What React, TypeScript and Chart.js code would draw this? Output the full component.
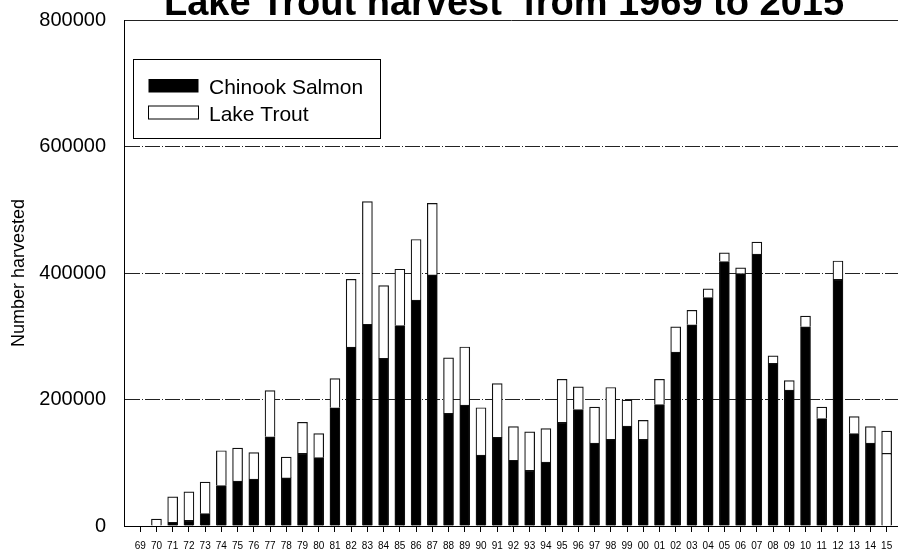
import React, { useEffect, useRef } from 'react';
import { Chart, registerables } from 'chart.js';

Chart.register(...registerables);

const years = [
  1969, 1970, 1971, 1972, 1973, 1974, 1975, 1976, 1977, 1978, 1979, 1980,
  1981, 1982, 1983, 1984, 1985, 1986, 1987, 1988, 1989, 1990, 1991, 1992,
  1993, 1994, 1995, 1996, 1997, 1998, 1999, 2000, 2001, 2002, 2003, 2004,
  2005, 2006, 2007, 2008, 2009, 2010, 2011, 2012, 2013, 2014, 2015,
];

const yearLabels = [
  '69', '70', '71', '72', '73', '74', '75', '76', '77', '78', '79', '80',
  '81', '82', '83', '84', '85', '86', '87', '88', '89', '90', '91', '92',
  '93', '94', '95', '96', '97', '98', '99', '00', '01', '02', '03', '04',
  '05', '06', '07', '08', '09', '10', '11', '12', '13', '14', '15',
];

const chinookSalmon = [
  0, 0, 6000, 9000, 19500, 64000, 71000, 74000, 141000, 76000, 115000, 108000,
  187000, 283000, 319000, 265000, 317000, 357000, 397000, 178000, 191000, 112000, 140000, 104000,
  88000, 101000, 164000, 184000, 131000, 137000, 158000, 137000, 192000, 275000, 318000, 361000,
  418000, 399000, 430000, 257000, 215000, 315000, 170000, 390000, 146000, 131000, 115000,
];

const lakeTrout = [
  0, 11000, 40000, 45000, 50000, 55000, 52000, 42000, 73000, 33000, 49000, 38000,
  46000, 107000, 194000, 115000, 89000, 96000, 113000, 88000, 92000, 75000, 85000, 53000,
  61000, 53000, 68000, 36000, 57000, 82000, 41000, 30000, 40000, 40000, 23000, 14000,
  14000, 9000, 19000, 12000, 15000, 17000, 18000, 29000, 27000, 26000, 35000,
];

const seriesNames = ['Chinook Salmon', 'Lake Trout'];
const titleText = 'Lake Trout harvest  from 1969 to 2015';
const yAxisTitle = 'Number harvested';
const yMin = 0;
const yMax = 800000;
const yStep = 200000;

const FONT = '"Liberation Sans", Arial, Helvetica, sans-serif';

const overlayPlugin = {
  id: 'overlay',
  afterDraw(chart: any) {
    const { ctx, chartArea } = chart;
    const ca = chartArea;
    ctx.save();
    // title (clipped at the top as in the reference)
    ctx.fillStyle = '#000';
    ctx.font = `bold 38px ${FONT}`;
    ctx.textAlign = 'center';
    ctx.textBaseline = 'alphabetic';
    ctx.fillText(titleText, 504, 15);

    // legend box
    const bx = ca.left + 9.5;
    const by = ca.top + 39.5;
    ctx.lineWidth = 1;
    ctx.strokeStyle = '#000';
    ctx.fillStyle = '#fff';
    ctx.fillRect(bx, by, 247, 79);
    ctx.strokeRect(bx, by, 247, 79);

    // swatches
    ctx.fillStyle = '#000';
    ctx.fillRect(ca.left + 24.5, ca.top + 59, 50, 13.5);
    ctx.fillStyle = '#fff';
    ctx.fillRect(ca.left + 24.5, ca.top + 86, 50, 13);
    ctx.strokeRect(ca.left + 24.5, ca.top + 86, 50, 13);

    ctx.fillStyle = '#000';
    ctx.font = `21px ${FONT}`;
    ctx.textAlign = 'left';
    ctx.fillText(seriesNames[0], ca.left + 85, ca.top + 74);
    ctx.fillText(seriesNames[1], ca.left + 85, ca.top + 100.5);
    ctx.restore();
  },
};

export default function App() {
  const canvasRef = useRef<HTMLCanvasElement | null>(null);

  useEffect(() => {
    if (!canvasRef.current) return;
    const chinookColors = years.map((y) => (y === 2015 ? '#ffffff' : '#000000'));
    const chart = new Chart(canvasRef.current, {
      type: 'bar',
      data: {
        datasets: [
          {
            label: seriesNames[0],
            data: years.map((y, i) => ({ x: y, y: chinookSalmon[i] })),
            backgroundColor: chinookColors,
            borderColor: '#111',
            borderWidth: 1.2,
            barThickness: 10,
            stack: 's',
          },
          {
            label: seriesNames[1],
            data: years.map((y, i) => ({ x: y, y: lakeTrout[i] })),
            backgroundColor: '#ffffff',
            borderColor: '#111',
            borderWidth: 1.2,
            barThickness: 10,
            stack: 's',
          },
        ],
      },
      options: {
        responsive: false,
        animation: false,
        layout: { padding: { top: 20, left: 0, right: 0, bottom: 0 } },
        plugins: {
          legend: { display: false },
          title: { display: false },
          tooltip: { enabled: false },
        },
        scales: {
          x: {
            type: 'linear',
            stacked: true,
            offset: false,
            min: 1968,
            max: 2015.7,
            afterBuildTicks: (scale: any) => {
              scale.ticks = years.map((v) => ({ value: v }));
            },
            afterFit: (scale: any) => {
              scale.height = 24;
              scale.paddingLeft = 0;
              scale.paddingRight = 0;
              scale.paddingTop = 0;
              scale.paddingBottom = 0;
            },
            grid: {
              offset: false,
              drawOnChartArea: false,
              drawTicks: true,
              tickLength: 6,
              color: '#000',
              tickColor: '#000',
              tickWidth: 1,
            },
            border: { display: true, color: '#000', width: 1 },
            ticks: {
              autoSkip: false,
              maxRotation: 0,
              minRotation: 0,
              padding: 8,
              color: '#000',
              font: { family: FONT, size: 10 },
              callback: (v: any) => {
                const i = years.indexOf(Number(v));
                return i >= 0 ? yearLabels[i] : '';
              },
            },
          },
          y: {
            type: 'linear',
            stacked: true,
            min: yMin,
            max: yMax,
            afterFit: (scale: any) => {
              scale.width = 124;
              scale.paddingLeft = 0;
              scale.paddingRight = 0;
              scale.paddingTop = 0;
              scale.paddingBottom = 0;
            },
            grid: {
              drawTicks: false,
              lineWidth: 1,
              color: (ctx: any) =>
                ctx.tick && ctx.tick.value === 0 ? 'rgba(0,0,0,0)' : '#222',
            },
            border: {
              display: true,
              color: '#000',
              width: 1,
              dash: (ctx: any) =>
                ctx.tick && ctx.tick.value === yMax ? [] : [15, 2, 1, 2],
            },
            ticks: {
              stepSize: yStep,
              padding: 18,
              color: '#000',
              font: { family: FONT, size: 20 },
              callback: (v: any) => String(v),
            },
            title: {
              display: true,
              text: yAxisTitle,
              color: '#000',
              font: { family: FONT, size: 18 },
              padding: { top: 8, bottom: 0 },
            },
          },
        },
      },
      plugins: [overlayPlugin],
    } as any);
    return () => chart.destroy();
  }, []);

  return (
    <div style={{ position: 'absolute', left: 0, top: 0, width: 898, height: 550, background: '#fff' }}>
      <canvas ref={canvasRef} width={898} height={550} />
    </div>
  );
}
